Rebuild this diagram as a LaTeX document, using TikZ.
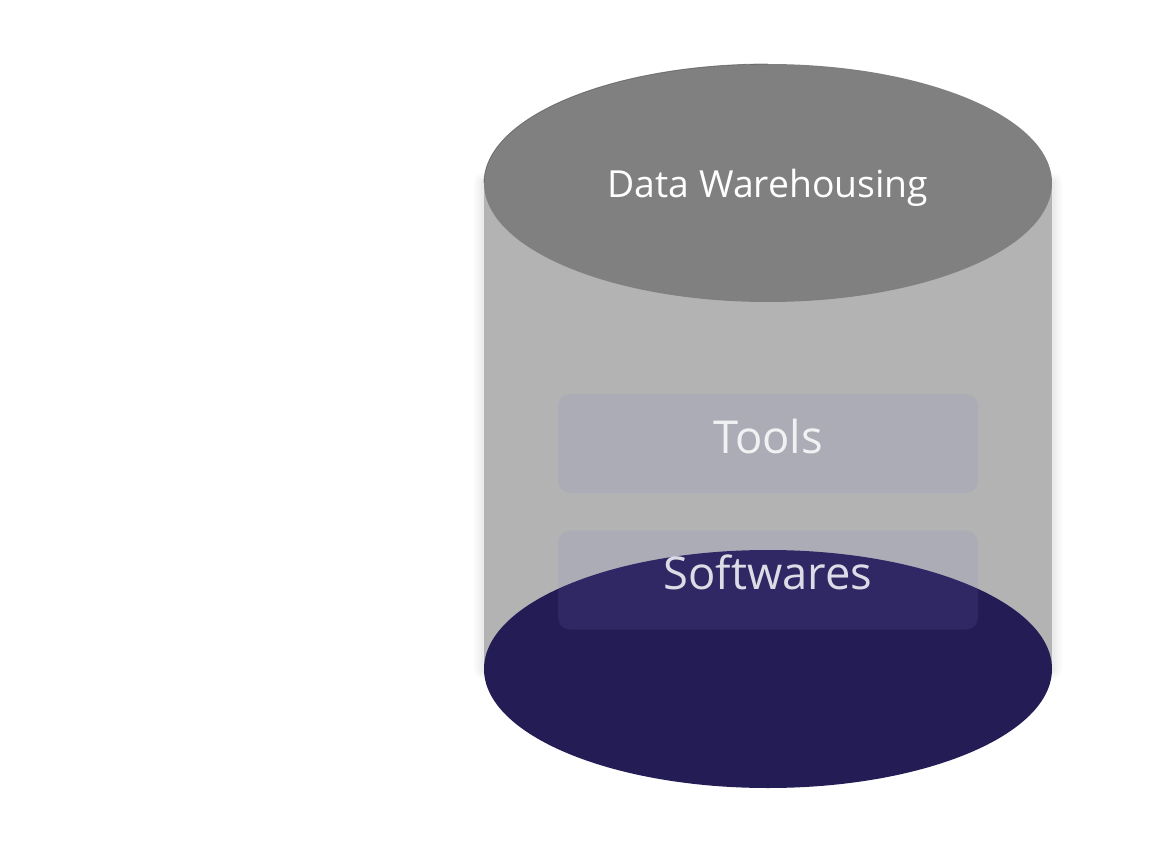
\documentclass[tikz,border=0pt]{standalone}
\usepackage{fontspec}
\setmainfont{Open Sans}
\usetikzlibrary{positioning}

\definecolor{lidgray}{RGB}{128,128,128}
\definecolor{bodygray}{RGB}{179,179,179}
\definecolor{basenavy}{RGB}{36,28,85}
\definecolor{boxtint}{RGB}{128,128,212}

\begin{document}
\begin{tikzpicture}[
      x=0.75pt,y=-0.75pt,
      layer box/.style ={rounded corners=9pt,fill=boxtint,fill opacity=0.12,
        text=white,text opacity=0.84,inner sep=0pt,
        minimum width=315pt,text height=44.25pt,text depth=30pt,
        font=\fontsize{34}{40}\selectfont},
      lid text/.style ={text=white,font=\fontsize{28}{33}\selectfont}
      ]
    \useasboundingbox (0,0) rectangle (1172,849);
    % soft glow round the drum
    \foreach \w in {20,15,10,6}
      \draw[line width=\w*0.75pt,black,draw opacity=0.02,line join=round]
        (484,183) arc [start angle=180,end angle=0,x radius=284,y radius=119]
        -- (1052,669) arc [start angle=0,end angle=-180,x radius=284,y radius=119] -- cycle;
    \fill[bodygray] (484,183) rectangle (1052,669);
    \fill[basenavy] (768,669) ellipse [x radius=284,y radius=119];
    \fill[lidgray] (768,183) ellipse [x radius=284,y radius=119];
    \draw[black!70,line width=0.6pt,draw opacity=0.6]
      (484,183) arc [start angle=180,end angle=270,x radius=284,y radius=119];
    \node[lid text,anchor=base] (lid) at (768,197) {Data Warehousing};
    \node[layer box] (tools) at (768,443.5) {Tools};
    \node[layer box,below=27.75pt of tools] (soft) {Softwares};
\end{tikzpicture}
\end{document}
